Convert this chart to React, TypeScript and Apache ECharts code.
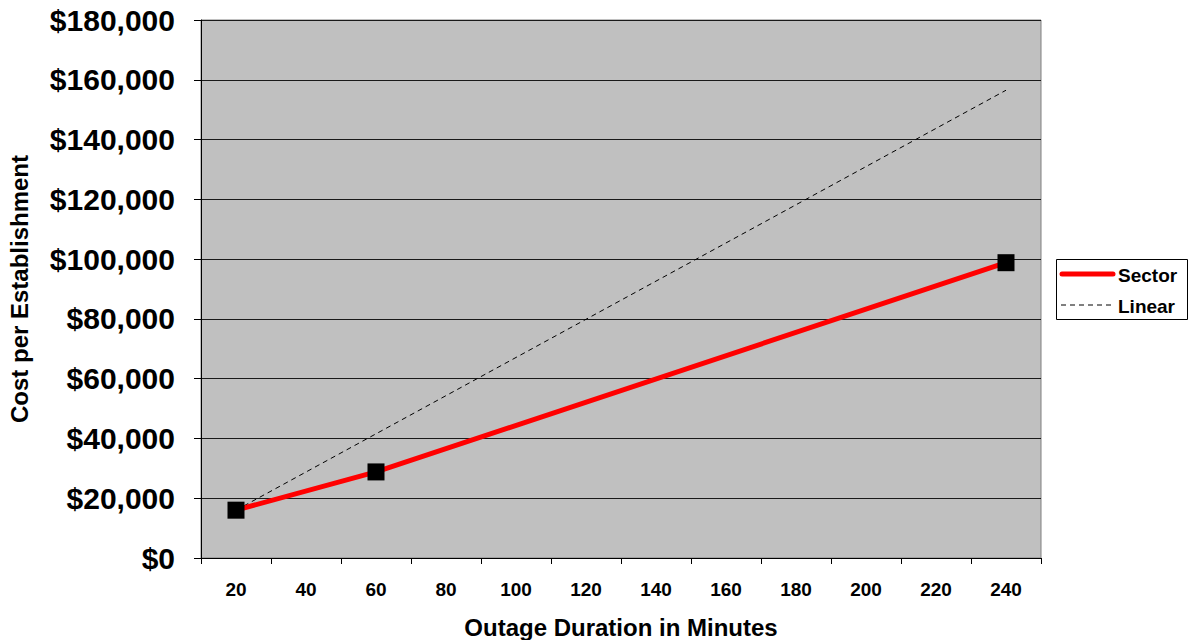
import React, { useEffect, useRef } from "react";
import * as echarts from "echarts";

// Outage duration categories (minutes)
const durations = ["20", "40", "60", "80", "100", "120", "140", "160", "180", "200", "220", "240"];

// Surveyed cost per establishment (only measured at 20, 60 and 240 minutes)
const sectorCost: (number | null)[] = [16000, null, 28800, null, null, null, null, null, null, null, null, 98800];

// Linear scaling reference line (endpoints)
const linearCost: (number | null)[] = [16000, null, null, null, null, null, null, null, null, null, null, 156500];

const yMin = 0;
const yMax = 180000;
const yStep = 20000;

const FONT = "'Liberation Sans', Arial, Helvetica, sans-serif";

export default function App() {
  const ref = useRef<HTMLDivElement>(null);

  useEffect(() => {
    if (!ref.current) return;
    const chart = echarts.init(ref.current, undefined, { renderer: "svg" });
    chart.setOption({
      animation: false,
      backgroundColor: "#ffffff",
      textStyle: { fontFamily: FONT },
      grid: {
        left: 201,
        top: 20,
        right: 153,
        bottom: 82,
        containLabel: false,
        outerBoundsMode: "none",
        show: true,
        backgroundColor: "#c0c0c0",
        borderColor: "#808080",
        borderWidth: 1,
      },
      xAxis: {
        type: "category",
        data: durations,
        boundaryGap: true,
        name: "Outage Duration in Minutes",
        nameLocation: "middle",
        nameGap: 57,
        nameTextStyle: { fontFamily: FONT, fontWeight: "bold", fontSize: 24, color: "#000" },
        axisLine: { lineStyle: { color: "#000", width: 1 } },
        axisTick: { show: true, length: 6, interval: 0, alignWithLabel: false, lineStyle: { color: "#000" } },
        axisLabel: { interval: 0, margin: 22, fontFamily: FONT, fontWeight: "bold", fontSize: 19, color: "#000" },
        splitLine: { show: false },
      },
      yAxis: {
        type: "value",
        min: yMin,
        max: yMax,
        interval: yStep,
        name: "Cost per Establishment",
        nameLocation: "middle",
        nameGap: 170,
        nameRotate: 90,
        nameTextStyle: { fontFamily: FONT, fontWeight: "bold", fontSize: 24, color: "#000" },
        axisLine: { show: true, lineStyle: { color: "#000", width: 1 } },
        axisTick: { show: true, length: 7, lineStyle: { color: "#000" } },
        axisLabel: {
          margin: 26,
          fontFamily: FONT,
          fontWeight: "bold",
          fontSize: 30,
          color: "#000",
          formatter: (v: number) => "$" + v.toLocaleString("en-US"),
        },
        splitLine: { show: true, lineStyle: { color: "#1a1a1a", width: 1 } },
      },
      series: [
        {
          name: "Linear",
          type: "line",
          data: linearCost,
          connectNulls: true,
          symbol: "none",
          lineStyle: { color: "#000", width: 1, type: [5, 4] },
          z: 2,
        },
        {
          name: "Sector",
          type: "line",
          data: sectorCost,
          connectNulls: true,
          symbol: "rect",
          symbolSize: 17,
          itemStyle: { color: "#000" },
          lineStyle: { color: "#ff0000", width: 5 },
          z: 3,
        },
      ],
      graphic: [
        {
          type: "rect",
          shape: { x: 1056.5, y: 259.5, width: 131, height: 60 },
          style: { fill: "#fff", stroke: "#000", lineWidth: 1 },
        },
        {
          type: "line",
          shape: { x1: 1062, y1: 274, x2: 1113, y2: 274 },
          style: { stroke: "#ff0000", lineWidth: 5, lineCap: "round" },
        },
        {
          type: "text",
          x: 1118,
          y: 275,
          style: { text: "Sector", font: `bold 19px ${FONT}`, fill: "#000", verticalAlign: "middle" },
        },
        {
          type: "line",
          shape: { x1: 1061, y1: 305, x2: 1113, y2: 305 },
          style: { stroke: "#000", lineWidth: 1, lineDash: [5, 4] },
        },
        {
          type: "text",
          x: 1118,
          y: 306,
          style: { text: "Linear", font: `bold 19px ${FONT}`, fill: "#000", verticalAlign: "middle" },
        },
      ],
    });
    return () => chart.dispose();
  }, []);

  return (
    <div
      ref={ref}
      style={{ position: "fixed", left: 0, top: 0, width: 1194, height: 640 }}
    />
  );
}
